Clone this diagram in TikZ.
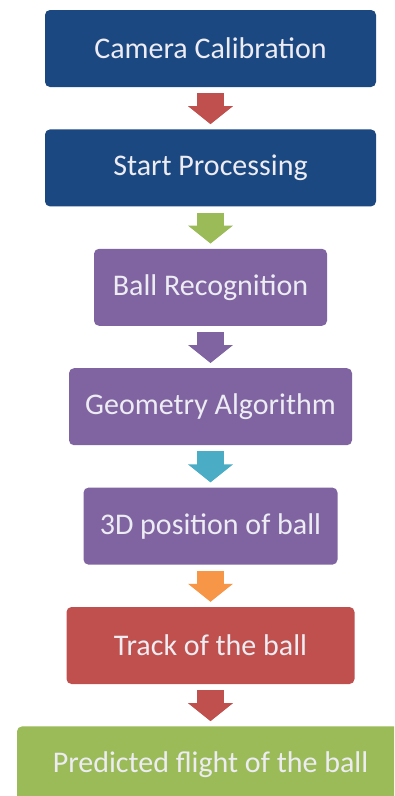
\documentclass[tikz,border=0pt]{standalone}
\usepackage{fontspec}
\setmainfont{Carlito}
\usetikzlibrary{arrows.meta, positioning}
\usepackage{xcolor}
\definecolor{officeblue}{RGB}{28,72,130}
\definecolor{officepurple}{RGB}{128,100,162}
\definecolor{officered}{RGB}{192,80,77}
\definecolor{officegreen}{RGB}{155,187,89}
\definecolor{officeteal}{RGB}{75,172,198}
\definecolor{officeorange}{RGB}{247,150,70}
\definecolor{boxtext}{RGB}{236,236,242}
\tikzset{stepbox/.style={rectangle, rounded corners=5pt, minimum height=77pt, text=boxtext, font=\fontsize{30}{36}\selectfont},
blockarrow/.style={line width=27pt, -{Triangle[width=44pt, length=18pt]}, shorten <=6pt, shorten >=5pt}}

\begin{document}
\begin{tikzpicture}[
        node distance=42pt
    ]
        \clip (0pt, 0pt) rectangle (394pt, -796pt);
        \fill[white] (0pt, 0pt) rectangle (394pt, -796pt);
        % Boxes
        \node[stepbox, fill=officeblue, minimum width=331pt] (calib) at (210.5pt, -48.5pt) {Camera Calibration};
        \node[stepbox, fill=officeblue, minimum width=331pt, below=of calib] (start) {Start Processing};
        \node[stepbox, fill=officepurple, minimum width=233pt, below=of start] (recog) {Ball Recognition};
        \node[stepbox, fill=officepurple, minimum width=283pt, below=of recog] (geom) {Geometry Algorithm};
        \node[stepbox, fill=officepurple, minimum width=254pt, below=of geom] (pos) {3D position of ball};
        \node[stepbox, fill=officered, minimum width=288pt, below=of pos] (track) {Track of the ball};
        \node[stepbox, fill=officegreen, minimum width=387pt, below=of track] (flight) {Predicted flight of the ball};
        % Arrows
        \draw[blockarrow, officered] (calib) -- (start);
        \draw[blockarrow, officegreen] (start) -- (recog);
        \draw[blockarrow, officepurple] (recog) -- (geom);
        \draw[blockarrow, officeteal] (geom) -- (pos);
        \draw[blockarrow, officeorange] (pos) -- (track);
        \draw[blockarrow, officered] (track) -- (flight);
    \end{tikzpicture}
\end{document}
